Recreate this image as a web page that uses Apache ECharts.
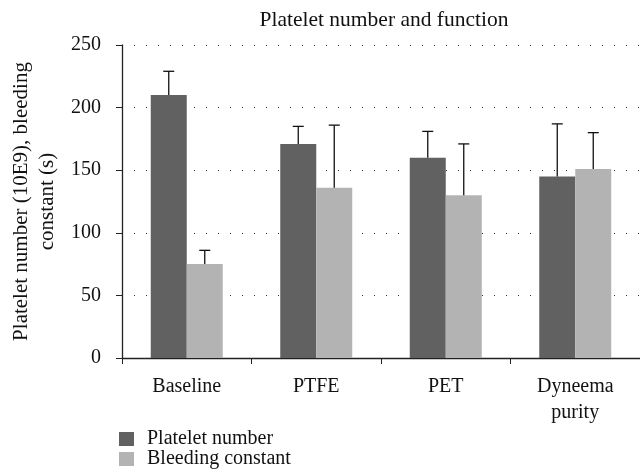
<!DOCTYPE html>
<html><head><meta charset="utf-8">
<script src="https://cdn.jsdelivr.net/npm/echarts@6/dist/echarts.min.js"></script>
<style>html,body{margin:0;padding:0;background:#fff}#c{width:640px;height:476px}</style>
</head><body><div id="c"></div>
<script>
var categories = ['Baseline', 'PTFE', 'PET', 'Dyneema\npurity'];
var plateletNumber = [210, 171, 160, 145];
var plateletErrTop = [229, 185, 181, 187];
var bleedingConstant = [75, 136, 130, 151];
var bleedingErrTop = [86, 186, 171, 180];
var seriesNames = ['Platelet number', 'Bleeding constant'];
var yTicks = [0, 50, 100, 150, 200, 250];

var FONT = "'Liberation Serif', 'DejaVu Serif', serif";
var BARW = 36;
function errSeries(vals, tops, offset) {
  return {
    type: 'custom',
    silent: true,
    z: 5,
    data: vals.map(function (v, i) { return [i, v, tops[i]]; }),
    renderItem: function (params, api) {
      var p0 = api.coord([api.value(0), api.value(1)]);
      var p1 = api.coord([api.value(0), api.value(2)]);
      var x = p0[0] + offset;
      var st = { stroke: '#111', lineWidth: 1.3 };
      return { type: 'group', children: [
        { type: 'line', shape: { x1: x, y1: p0[1], x2: x, y2: p1[1] }, style: st },
        { type: 'line', shape: { x1: x - 5.5, y1: p1[1], x2: x + 5.5, y2: p1[1] }, style: st }
      ]};
    }
  };
}
var chart = echarts.init(document.getElementById('c'));
chart.setOption({
  animation: false,
  title: { text: 'Platelet number and function', left: 379, textAlign: 'center', top: 4,
    textStyle: { fontFamily: FONT, fontSize: 21.5, fontWeight: 'normal', color: '#111' } },
  legend: { orient: 'vertical', left: 119, top: 429, padding: 0, itemWidth: 15, itemHeight: 14, itemGap: 0,
    icon: 'rect', data: seriesNames,
    textStyle: { fontFamily: FONT, fontSize: 20, color: '#111', lineHeight: 20, padding: [0, 0, 0, 8] } },
  grid: { left: 121, right: 0, top: 45, bottom: 118, containLabel: false },
  xAxis: {
    type: 'category', data: categories,
    axisLine: { lineStyle: { color: '#222', width: 1.3 } },
    axisTick: { show: true, length: 6, lineStyle: { color: '#222' } },
    axisLabel: { fontFamily: FONT, fontSize: 20, color: '#111', margin: 16, lineHeight: 26 }
  },
  yAxis: {
    type: 'value', min: 0, max: 250, interval: 50,
    name: 'Platelet number (10E9), bleeding\nconstant (s)', nameLocation: 'middle', nameGap: 62,
    nameTextStyle: { fontFamily: FONT, fontSize: 21, color: '#111', lineHeight: 26 },
    axisLine: { show: true, lineStyle: { color: '#222', width: 1.3 } },
    axisTick: { show: true, length: 6, lineStyle: { color: '#222' } },
    axisLabel: { fontFamily: FONT, fontSize: 20, color: '#111', margin: 21,
      formatter: function (v) { return yTicks.indexOf(v) >= 0 ? String(v) : ''; } },
    splitLine: { show: true, lineStyle: { color: '#333', type: [1, 11], width: 1 } }
  },
  series: [
    { name: seriesNames[0], type: 'bar', data: plateletNumber, barWidth: BARW, barGap: '0%',
      itemStyle: { color: '#616161' } },
    { name: seriesNames[1], type: 'bar', data: bleedingConstant, barWidth: BARW, barGap: '0%',
      itemStyle: { color: '#b3b3b3' } },
    errSeries(plateletNumber, plateletErrTop, -BARW / 2),
    errSeries(bleedingConstant, bleedingErrTop, BARW / 2)
  ]
});
</script></body></html>
